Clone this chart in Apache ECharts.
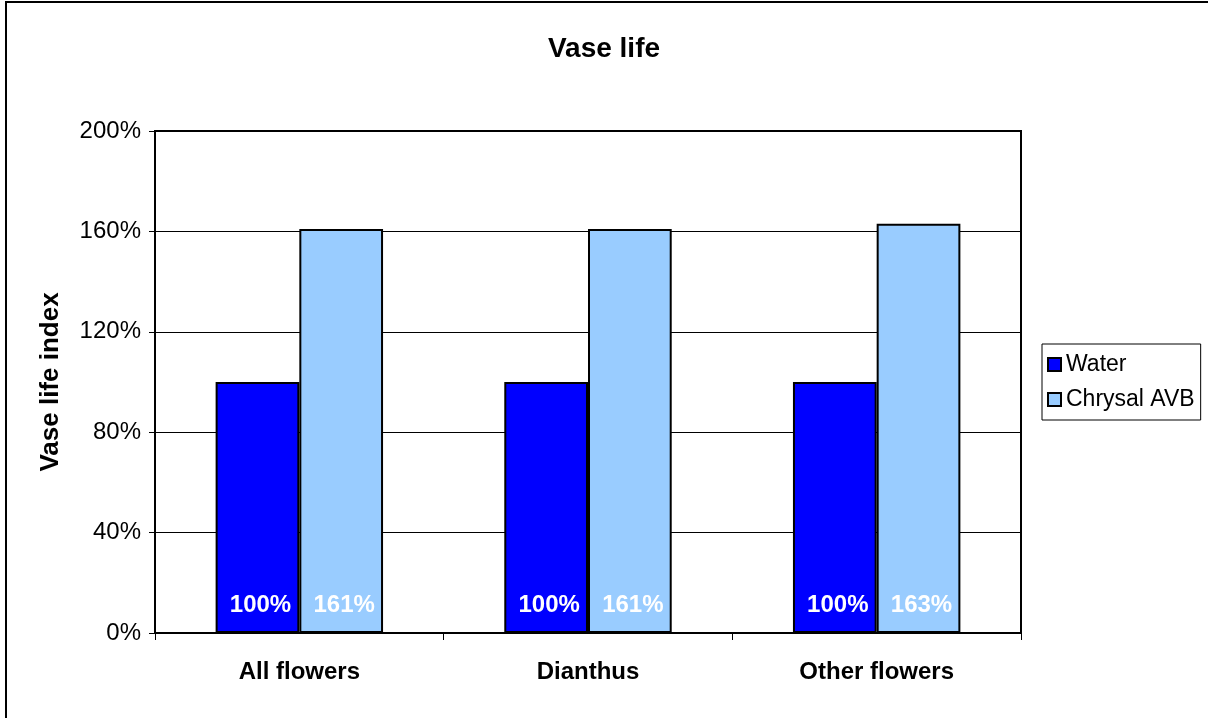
<!DOCTYPE html>
<html>
<head>
<meta charset="utf-8">
<script src="https://cdn.jsdelivr.net/npm/echarts@6/dist/echarts.min.js"></script>
<style>html,body{margin:0;padding:0;background:#fff}#c{width:1208px;height:718px}</style>
</head>
<body>
<div id="c"></div>
<script>
var categories = ['All flowers', 'Dianthus', 'Other flowers'];
var seriesNames = ['Water', 'Chrysal AVB'];
var waterValues = [100, 100, 100];
var chrysalValues = [161, 161, 163];
var yTicks = { min: 0, max: 200, interval: 40 };

var FONT = '"Liberation Sans", Arial, sans-serif';
var chart = echarts.init(document.getElementById('c'), null, { renderer: 'canvas' });

var labelStyle = {
  show: true,
  position: 'insideBottom',
  distance: 16,
  offset: [3, 0],
  formatter: '{c}%',
  color: '#ffffff',
  fontFamily: FONT,
  fontWeight: 'bold',
  fontSize: 24
};

chart.setOption({
  animation: false,
  backgroundColor: '#ffffff',
  graphic: [{
    type: 'rect',
    shape: { x: 6, y: 2, width: 1220, height: 740 },
    style: { fill: 'none', stroke: '#000', lineWidth: 2 },
    silent: true,
    z: -1
  }],
  title: {
    text: 'Vase life',
    left: 'center',
    top: 30,
    textStyle: { fontFamily: FONT, fontWeight: 'bold', fontSize: 28, color: '#000' }
  },
  legend: {
    orient: 'vertical',
    left: 1042,
    top: 344,
    data: seriesNames,
    icon: 'rect',
    itemWidth: 13,
    itemHeight: 13,
    itemGap: 12,
    padding: [9, 6, 9, 5],
    borderColor: '#000',
    borderWidth: 1,
    textStyle: { fontFamily: FONT, fontSize: 23, color: '#000' }
  },
  grid: {
    left: 155, top: 131, right: 187, bottom: 85,
    show: true, borderColor: '#000', borderWidth: 2, backgroundColor: '#fff'
  },
  xAxis: {
    type: 'category',
    data: categories,
    axisLine: { lineStyle: { color: '#000', width: 2 } },
    axisTick: { show: true, alignWithLabel: false, length: 7, lineStyle: { color: '#000', width: 1 } },
    axisLabel: { margin: 27, color: '#000', fontFamily: FONT, fontWeight: 'bold', fontSize: 24 }
  },
  yAxis: {
    type: 'value',
    min: yTicks.min, max: yTicks.max, interval: yTicks.interval,
    name: 'Vase life index',
    nameLocation: 'middle',
    nameGap: 91,
    nameTextStyle: { fontFamily: FONT, fontWeight: 'bold', fontSize: 26, color: '#000' },
    axisLine: { show: true, lineStyle: { color: '#000', width: 2 } },
    axisTick: { show: true, length: 6, lineStyle: { color: '#000', width: 1 } },
    axisLabel: { formatter: '{value}%', margin: 14, color: '#000', fontFamily: FONT, fontSize: 24 },
    splitLine: { show: true, lineStyle: { color: '#000', width: 1 } }
  },
  series: [{
    name: seriesNames[0],
    type: 'bar',
    data: waterValues,
    barGap: '0%',
    barCategoryGap: '42%',
    itemStyle: { color: '#0000ff', borderColor: '#000', borderWidth: 2 },
    label: labelStyle
  }, {
    name: seriesNames[1],
    type: 'bar',
    data: chrysalValues,
    barGap: '0%',
    barCategoryGap: '42%',
    itemStyle: { color: '#99ccff', borderColor: '#000', borderWidth: 2 },
    label: labelStyle
  }]
});
</script>
</body>
</html>
